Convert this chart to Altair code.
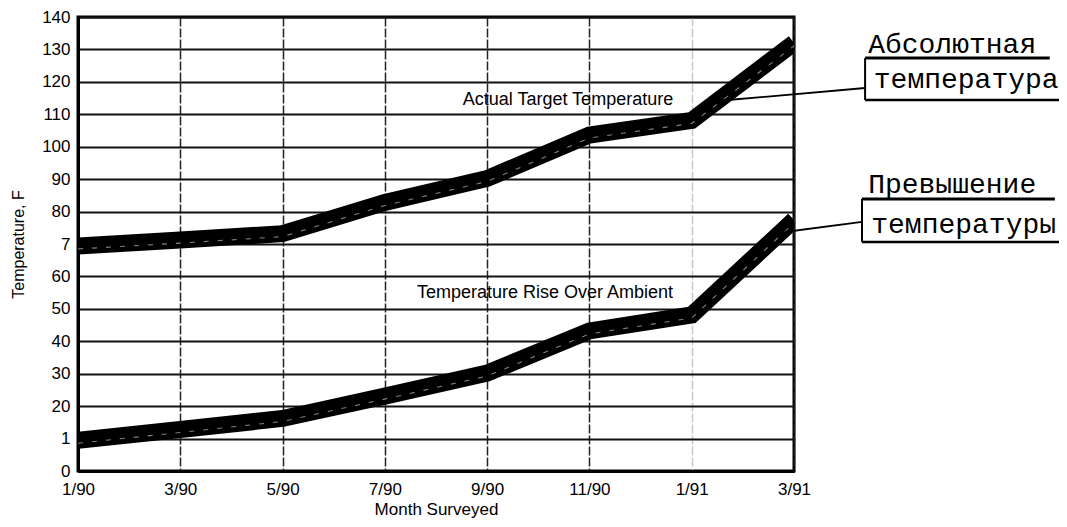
import altair as alt
import pandas as pd

# ---- data ----
month_labels = ["1/90", "3/90", "5/90", "7/90", "9/90", "11/90", "1/91", "3/91"]
month_idx = [0, 2, 4, 6, 8, 10, 12, 14]
actual_temp = [69.4, 71.2, 73.2, 82.8, 90.2, 103.6, 108.1, 132.0]
rise_temp = [9.5, 12.8, 16.2, 23.1, 30.2, 43.2, 48.1, 77.4]

series_names = ["Actual Target Temperature", "Temperature Rise Over Ambient"]

# inline annotation labels (month position, temperature)
ann_text = ["Actual Target Temperature", "Temperature Rise Over Ambient"]
ann_x = [9.58, 9.13]
ann_y = [114.4, 54.9]

# Russian side labels
ru_text = ["Абсолютная", "температура", "Превышение", "температуры"]
ru_x = [15.45, 15.56, 15.45, 15.51]
ru_y = [128.9, 118.1, 85.7, 73.4]

# leader lines from curves to the side labels
lead_x = [12.71, 13.82]
lead_y = [114.4, 73.7]
lead_x2 = [15.39, 15.33]
lead_y2 = [118.1, 76.8]

# boxes around side labels: top rule, left rule, bottom rule
box_x = [15.39, 15.39, 15.39, 15.33, 15.33, 15.33]
box_x2 = [19.0, 15.39, 19.6, 19.1, 15.33, 19.6]
box_y = [127.35, 127.35, 114.4, 83.9, 83.9, 70.6]
box_y2 = [127.35, 114.4, 114.4, 83.9, 70.6, 70.6]
box_w = [3, 2, 2.5, 3, 2, 2.5]

rows = []
for name, vals in zip(series_names, [actual_temp, rise_temp]):
    for m, v in zip(month_idx, vals):
        rows.append({"x": m, "y": v, "series": name})
df = pd.DataFrame(rows)

ann_df = pd.DataFrame({"x": ann_x, "y": ann_y, "text": ann_text})
ru_df = pd.DataFrame({"x": ru_x, "y": ru_y, "text": ru_text})
lead_df = pd.DataFrame({"x": lead_x, "y": lead_y, "x2": lead_x2, "y2": lead_y2})
box_df = pd.DataFrame({"x": box_x, "x2": box_x2, "y": box_y, "y2": box_y2, "w": box_w})

label_js = "[" + ",".join("'" + s + "'" for s in month_labels) + "]"

x_scale = alt.Scale(domain=[0, 14], nice=False, zero=False)
y_scale = alt.Scale(domain=[0, 140], nice=False)

x_axis = alt.Axis(
    values=month_idx,
    labelExpr=label_js + "[datum.value / 2]",
    title="Month Surveyed",
    ticks=False,
    grid=True,
    gridColor={"condition": {"test": "datum.value === 12", "value": "#c8c8c8"}, "value": "#222222"},
    gridWidth=1.5,
    gridDash=[9, 2],
    labelPadding=10,
    labelFontSize=17,
    labelOverlap=False,
    titleFontSize=17,
    titleFontWeight="normal",
    titleY=43,
    titleBaseline="alphabetic",
    labelFlush=False,
)
y_axis = alt.Axis(
    values=list(range(0, 141, 10)),
    labelExpr="datum.value == 70 ? '7' : datum.value == 10 ? '1' : datum.label",
    title="Temperature, F",
    ticks=False,
    grid=True,
    gridColor="#111111",
    gridWidth=2,
    labelPadding=8,
    labelFontSize=17,
    labelOverlap=False,
    titleFontSize=16,
    titleFontWeight="normal",
    titleX=-55,
    titleY=227,
    titleBaseline="alphabetic",
)

X = alt.X("x:Q", scale=x_scale, axis=x_axis)
Y = alt.Y("y:Q", scale=y_scale, axis=y_axis)

thick = alt.Chart(df).mark_line(color="black", strokeWidth=17, clip=True, strokeCap="butt").encode(
    x=X, y=Y, detail="series:N"
)
dashes = alt.Chart(df).mark_line(
    color="white", strokeWidth=1.1, strokeDash=[5, 9], opacity=0.5, yOffset=3, clip=True
).encode(x=X, y=Y, detail="series:N")

ann = alt.Chart(ann_df).mark_text(
    font="Liberation Sans", fontSize=18, color="black", align="center", baseline="middle"
).encode(x=X, y=Y, text="text:N")

ru = alt.Chart(ru_df).mark_text(
    font="Liberation Mono", fontSize=28, color="black", align="left", baseline="alphabetic"
).encode(x=X, y=Y, text="text:N")

lead = alt.Chart(lead_df).mark_rule(color="black", strokeWidth=1.8).encode(
    x=X, y=Y, x2="x2:Q", y2="y2:Q"
)

box = alt.Chart(box_df).mark_rule(color="black").encode(
    x=X, y=Y, x2="x2:Q", y2="y2:Q",
    strokeWidth=alt.StrokeWidth("w:Q", scale=None, legend=None),
)

chart = (
    alt.layer(thick, dashes, ann, lead, box, ru)
    .properties(
        width=716,
        height=454,
        autosize=alt.AutoSizeParams(type="none"),
        padding={"left": 70, "top": 9, "right": 265, "bottom": 48},
        background="white",
    )
    .configure_view(stroke="black", strokeWidth=3)
    .configure_axis(
        domainColor="black",
        domainWidth=3,
        labelColor="black",
        titleColor="black",
        labelFont="Liberation Sans",
        titleFont="Liberation Sans",
    )
)

chart.save("out.html", embed_options={"renderer": "svg", "actions": False})
